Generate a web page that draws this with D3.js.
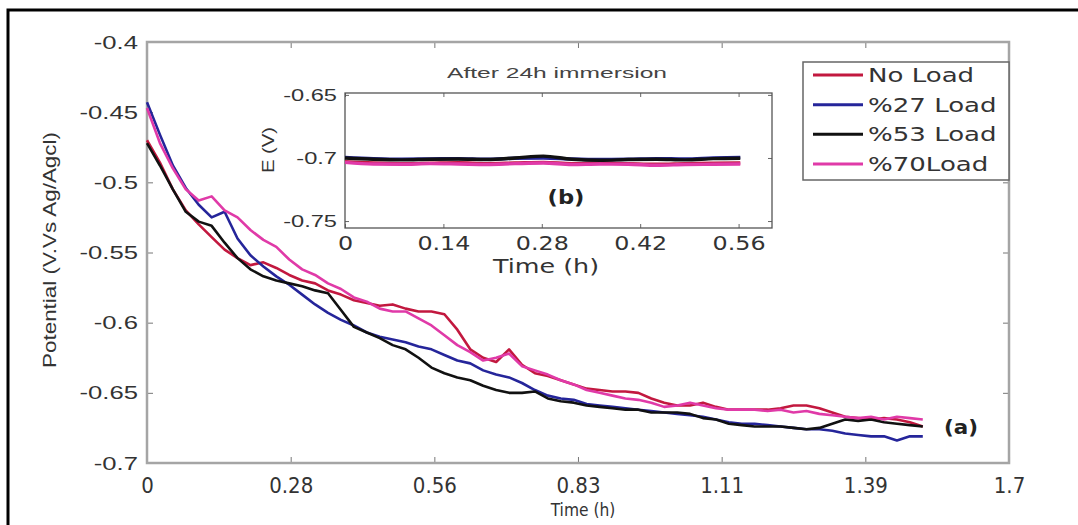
<!DOCTYPE html>
<html>
<head>
<meta charset="utf-8">
<script src="https://cdn.jsdelivr.net/npm/d3@7"></script>
<style>
  body { margin: 0; background: #fff; }
  svg { display: block; }
</style>
</head>
<body>
<div id="chart"></div>
<script>
// main plot data, time in hours, potential in V
var timeH = [0, 0.025, 0.05, 0.075, 0.1, 0.125, 0.15, 0.175, 0.2, 0.225, 0.25, 0.275, 0.3, 0.325, 0.35, 0.375,
  0.4, 0.425, 0.45, 0.475, 0.5, 0.525, 0.55, 0.575, 0.6, 0.625, 0.65, 0.675, 0.7, 0.725, 0.75, 0.775,
  0.8, 0.825, 0.85, 0.875, 0.9, 0.925, 0.95, 0.975, 1.0, 1.025, 1.05, 1.075, 1.1, 1.125, 1.15, 1.175,
  1.2, 1.225, 1.25, 1.275, 1.3, 1.325, 1.35, 1.375, 1.4, 1.425, 1.45, 1.475, 1.5]

var noLoad = [-0.470, -0.486, -0.505, -0.520, -0.530, -0.539, -0.548, -0.554, -0.559, -0.557, -0.561, -0.566,
  -0.570, -0.572, -0.577, -0.580, -0.584, -0.586, -0.588, -0.587, -0.590, -0.592, -0.592, -0.594, -0.605,
  -0.619, -0.625, -0.628, -0.619, -0.630, -0.636, -0.638, -0.641, -0.644, -0.647, -0.648, -0.649, -0.649,
  -0.650, -0.654, -0.657, -0.659, -0.659, -0.657, -0.660, -0.662, -0.662, -0.662, -0.662, -0.661, -0.659,
  -0.659, -0.661, -0.664, -0.667, -0.668, -0.669, -0.668, -0.669, -0.671, -0.674]

var load27 = [-0.443, -0.466, -0.488, -0.504, -0.516, -0.525, -0.521, -0.540, -0.552, -0.560, -0.567, -0.573,
  -0.580, -0.587, -0.593, -0.598, -0.602, -0.607, -0.610, -0.612, -0.614, -0.617, -0.619, -0.623, -0.627,
  -0.629, -0.634, -0.637, -0.639, -0.643, -0.648, -0.652, -0.654, -0.655, -0.658, -0.659, -0.660, -0.661,
  -0.662, -0.663, -0.664, -0.665, -0.666, -0.667, -0.669, -0.671, -0.672, -0.672, -0.673, -0.674, -0.675,
  -0.676, -0.676, -0.677, -0.679, -0.680, -0.681, -0.681, -0.684, -0.681, -0.681]

var load53 = [-0.472, -0.488, -0.505, -0.521, -0.528, -0.531, -0.543, -0.554, -0.562, -0.567, -0.570, -0.572,
  -0.574, -0.577, -0.579, -0.591, -0.603, -0.607, -0.611, -0.616, -0.619, -0.625, -0.632, -0.636, -0.639,
  -0.641, -0.645, -0.648, -0.650, -0.650, -0.649, -0.654, -0.656, -0.657, -0.659, -0.660, -0.661, -0.662,
  -0.662, -0.664, -0.664, -0.664, -0.665, -0.668, -0.669, -0.672, -0.673, -0.674, -0.674, -0.674, -0.675,
  -0.676, -0.675, -0.672, -0.669, -0.670, -0.669, -0.671, -0.672, -0.673, -0.674]

var load70 = [-0.447, -0.472, -0.490, -0.505, -0.513, -0.510, -0.520, -0.525, -0.534, -0.541, -0.546, -0.555,
  -0.562, -0.566, -0.572, -0.576, -0.582, -0.585, -0.590, -0.592, -0.592, -0.597, -0.602, -0.609, -0.616,
  -0.621, -0.627, -0.625, -0.622, -0.631, -0.634, -0.637, -0.641, -0.644, -0.648, -0.650, -0.652, -0.654,
  -0.655, -0.657, -0.660, -0.659, -0.657, -0.659, -0.661, -0.662, -0.662, -0.662, -0.663, -0.662, -0.664,
  -0.663, -0.665, -0.666, -0.667, -0.668, -0.667, -0.669, -0.667, -0.668, -0.669]

// inset (after 24h immersion)
var insetTimeH = [0, 0.04, 0.08, 0.12, 0.16, 0.2, 0.24, 0.28, 0.32, 0.36, 0.4, 0.44, 0.48, 0.52, 0.558]
var insetNoLoad = [-0.7030, -0.7040, -0.7045, -0.7042, -0.7038, -0.7045, -0.7040, -0.7035, -0.7045, -0.7040, -0.7045, -0.7050, -0.7045, -0.7042, -0.7040]
var insetLoad27 = [-0.6995, -0.7005, -0.7010, -0.7008, -0.7005, -0.7010, -0.7002, -0.7000, -0.7008, -0.7012, -0.7010, -0.7005, -0.7008, -0.7000, -0.6995]
var insetLoad53 = [-0.7000, -0.7010, -0.7015, -0.7010, -0.7008, -0.7012, -0.7000, -0.6985, -0.7010, -0.7018, -0.7012, -0.7010, -0.7015, -0.7005, -0.7002]
var insetLoad70 = [-0.7035, -0.7048, -0.7050, -0.7045, -0.7048, -0.7052, -0.7045, -0.7040, -0.7052, -0.7048, -0.7050, -0.7058, -0.7052, -0.7050, -0.7048]

var seriesNames = ['No Load', '%27 Load', '%53 Load', '%70Load']
var seriesColors = ['#c2183f', '#25259a', '#111111', '#e03aa8']

var xTickVals = [0, 0.2778, 0.5556, 0.8333, 1.1111, 1.3889, 1.6667]
var xTickLabels = ['0', '0.28', '0.56', '0.83', '1.11', '1.39', '1.7']
var yTickVals = [-0.4, -0.45, -0.5, -0.55, -0.6, -0.65, -0.7]
var yTickLabels = ['-0.4', '-0.45', '-0.5', '-0.55', '-0.6', '-0.65', '-0.7']

var insetXTickVals = [0, 0.1389, 0.2778, 0.4167, 0.5556]
var insetXTickLabels = ['0', '0.14', '0.28', '0.42', '0.56']
var insetYTickVals = [-0.65, -0.7, -0.75]
var insetYTickLabels = ['-0.65', '-0.7', '-0.75']


// stretch or squeeze a text to k times its natural width
function squeeze(sel, k) {
  sel.each(function() {
    var w = this.getComputedTextLength()
    d3.select(this).attr('textLength', w * k).attr('lengthAdjust', 'spacingAndGlyphs')
  })
}

var svg = d3.select('#chart').append('svg')
  .attr('width', 1078)
  .attr('height', 525)

svg.append('rect').attr('width', 1078).attr('height', 525).attr('fill', '#fff')

// outer frame, only top and left edges show
svg.append('rect')
  .attr('x', 8).attr('y', 10)
  .attr('width', 1200).attr('height', 600)
  .attr('fill', 'none')
  .attr('stroke', '#000')
  .attr('stroke-width', 3)

var box = {left: 147, right: 1009, top: 42, bottom: 463}

var x = d3.scaleLinear().domain([0, 6000 / 3600]).range([box.left, box.right])
var y = d3.scaleLinear().domain([-0.7, -0.4]).range([box.bottom, box.top])

// ticks, all pointing inward
var gx = svg.append('g')
  .attr('transform', 'translate(0,' + box.bottom + ')')
  .call(d3.axisBottom(x).tickValues(xTickVals)
    .tickFormat(function(d, i) { return xTickLabels[i] })
    .tickSizeInner(-6).tickSizeOuter(0))
gx.select('.domain').remove()
gx.selectAll('line').attr('stroke', '#777')
gx.selectAll('text')
  .attr('y', 30).attr('dy', null)
  .style('font-family', 'DejaVu Sans')
  .style('font-size', '22px')
  .attr('fill', '#333')
squeeze(gx.selectAll('text'), 0.9)

var gxTop = svg.append('g')
  .attr('transform', 'translate(0,' + box.top + ')')
  .call(d3.axisTop(x).tickValues(xTickVals).tickFormat('').tickSizeInner(-6).tickSizeOuter(0))
gxTop.select('.domain').remove()
gxTop.selectAll('line').attr('stroke', '#777')

var gy = svg.append('g')
  .attr('transform', 'translate(' + box.left + ',0)')
  .call(d3.axisLeft(y).tickValues(yTickVals)
    .tickFormat(function(d, i) { return yTickLabels[i] })
    .tickSizeInner(-6).tickSizeOuter(0))
gy.select('.domain').remove()
gy.selectAll('line').attr('stroke', '#777')
gy.selectAll('text')
  .attr('x', -9)
  .style('font-family', 'Liberation Sans')
  .style('font-size', '19px')
  .attr('fill', '#333')
squeeze(gy.selectAll('text'), 1.35)

var gyRight = svg.append('g')
  .attr('transform', 'translate(' + box.right + ',0)')
  .call(d3.axisRight(y).tickValues(yTickVals).tickFormat('').tickSizeInner(-6).tickSizeOuter(0))
gyRight.select('.domain').remove()
gyRight.selectAll('line').attr('stroke', '#777')

svg.append('rect')
  .attr('x', box.left).attr('y', box.top)
  .attr('width', box.right - box.left).attr('height', box.bottom - box.top)
  .attr('fill', 'none')
  .attr('stroke', '#a5a5a5')
  .attr('stroke-width', 2.5)

// main curves
var line = d3.line()
  .x(function(d) { return x(d[0]) })
  .y(function(d) { return y(d[1]) })

var mainSeries = [noLoad, load27, load53, load70]
mainSeries.forEach(function(vals, i) {
  svg.append('path')
    .datum(timeH.map(function(t, j) { return [t, vals[j]] }))
    .attr('d', line)
    .attr('fill', 'none')
    .attr('stroke', seriesColors[i])
    .attr('stroke-width', 2.6)
    .attr('stroke-linejoin', 'round')
})

// axis titles
var yTitle = svg.append('text')
  .attr('transform', 'translate(56,250) rotate(-90)')
  .attr('text-anchor', 'middle')
  .style('font-family', 'Liberation Sans')
  .style('font-size', '19px')
  .attr('fill', '#333')
  .text('Potential (V.Vs Ag/Agcl)')
squeeze(yTitle, 1.18)

var xTitle = svg.append('text')
  .attr('x', 583).attr('y', 516)
  .attr('text-anchor', 'middle')
  .style('font-family', 'DejaVu Sans')
  .style('font-size', '18px')
  .attr('fill', '#333')
  .text('Time (h)')
squeeze(xTitle, 0.86)

var aLabel = svg.append('text')
  .attr('x', 961).attr('y', 434)
  .attr('text-anchor', 'middle')
  .style('font-family', 'DejaVu Sans')
  .style('font-weight', 'bold')
  .style('font-size', '20px')
  .attr('fill', '#222')
  .text('(a)')
squeeze(aLabel, 1.07)

// inset
var ibox = {left: 345, right: 772, top: 93, bottom: 228}
var xi = d3.scaleLinear().domain([0, 2170 / 3600]).range([ibox.left, ibox.right])
var yi = d3.scaleLinear().domain([-0.7555, -0.6485]).range([ibox.bottom, ibox.top])

svg.append('rect')
  .attr('x', ibox.left).attr('y', ibox.top)
  .attr('width', ibox.right - ibox.left).attr('height', ibox.bottom - ibox.top)
  .attr('fill', '#fff')

var gxi = svg.append('g')
  .attr('transform', 'translate(0,' + ibox.bottom + ')')
  .call(d3.axisBottom(xi).tickValues(insetXTickVals)
    .tickFormat(function(d, i) { return insetXTickLabels[i] })
    .tickSizeInner(-4).tickSizeOuter(0))
gxi.select('.domain').remove()
gxi.selectAll('line').attr('stroke', '#666')
gxi.selectAll('text')
  .attr('y', 22).attr('dy', null)
  .style('font-family', 'DejaVu Sans')
  .style('font-size', '20px')
  .attr('fill', '#333')
squeeze(gxi.selectAll('text'), 1.19)

var gxiTop = svg.append('g')
  .attr('transform', 'translate(0,' + ibox.top + ')')
  .call(d3.axisTop(xi).tickValues(insetXTickVals).tickFormat('').tickSizeInner(-4).tickSizeOuter(0))
gxiTop.select('.domain').remove()
gxiTop.selectAll('line').attr('stroke', '#666')

var gyi = svg.append('g')
  .attr('transform', 'translate(' + ibox.left + ',0)')
  .call(d3.axisLeft(yi).tickValues(insetYTickVals)
    .tickFormat(function(d, i) { return insetYTickLabels[i] })
    .tickSizeInner(-4).tickSizeOuter(0))
gyi.select('.domain').remove()
gyi.selectAll('line').attr('stroke', '#666')
gyi.selectAll('text')
  .attr('x', -8)
  .style('font-family', 'Liberation Sans')
  .style('font-size', '17px')
  .attr('fill', '#333')
squeeze(gyi.selectAll('text'), 1.39)

var gyiRight = svg.append('g')
  .attr('transform', 'translate(' + ibox.right + ',0)')
  .call(d3.axisRight(yi).tickValues(insetYTickVals).tickFormat('').tickSizeInner(-4).tickSizeOuter(0))
gyiRight.select('.domain').remove()
gyiRight.selectAll('line').attr('stroke', '#666')

svg.append('rect')
  .attr('x', ibox.left).attr('y', ibox.top)
  .attr('width', ibox.right - ibox.left).attr('height', ibox.bottom - ibox.top)
  .attr('fill', 'none')
  .attr('stroke', '#555')
  .attr('stroke-width', 1.3)

var lineInset = d3.line()
  .x(function(d) { return xi(d[0]) })
  .y(function(d) { return yi(d[1]) })
  .curve(d3.curveMonotoneX)

var insetSeries = [insetNoLoad, insetLoad27, insetLoad53, insetLoad70]
insetSeries.forEach(function(vals, i) {
  svg.append('path')
    .datum(insetTimeH.map(function(t, j) { return [t, vals[j]] }))
    .attr('d', lineInset)
    .attr('fill', 'none')
    .attr('stroke', seriesColors[i])
    .attr('stroke-width', 3.4)
    .attr('stroke-linejoin', 'round')
})

var iTitle = svg.append('text')
  .attr('x', 557).attr('y', 78)
  .attr('text-anchor', 'middle')
  .style('font-family', 'Liberation Sans')
  .style('font-size', '14px')
  .attr('fill', '#444')
  .text('After 24h immersion')
iTitle.attr('textLength', 220).attr('lengthAdjust', 'spacingAndGlyphs')

var iXTitle = svg.append('text')
  .attr('x', 546).attr('y', 273)
  .attr('text-anchor', 'middle')
  .style('font-family', 'DejaVu Sans')
  .style('font-size', '20px')
  .attr('fill', '#333')
  .text('Time (h)')
squeeze(iXTitle, 1.27)

var iYTitle = svg.append('text')
  .attr('transform', 'translate(274,150) rotate(-90)')
  .attr('text-anchor', 'middle')
  .style('font-family', 'Liberation Sans')
  .style('font-size', '17px')
  .attr('fill', '#333')
  .text('E (V)')
squeeze(iYTitle, 1.19)

var bLabel = svg.append('text')
  .attr('x', 566).attr('y', 204)
  .attr('text-anchor', 'middle')
  .style('font-family', 'DejaVu Sans')
  .style('font-weight', 'bold')
  .style('font-size', '20px')
  .attr('fill', '#222')
  .text('(b)')
squeeze(bLabel, 1.13)

// legend
var legend = svg.append('g')
legend.append('rect')
  .attr('x', 803).attr('y', 62)
  .attr('width', 206).attr('height', 118)
  .attr('fill', '#fff')
  .attr('stroke', '#666')
  .attr('stroke-width', 1.5)

var legendY = d3.scalePoint().domain(seriesNames).range([75, 164])

seriesNames.forEach(function(name, i) {
  legend.append('line')
    .attr('x1', 813).attr('x2', 863)
    .attr('y1', legendY(name)).attr('y2', legendY(name))
    .attr('stroke', seriesColors[i])
    .attr('stroke-width', 3)
  var t = legend.append('text')
    .attr('x', 868).attr('y', legendY(name) + 7)
    .style('font-family', 'DejaVu Sans')
    .style('font-size', '19px')
    .attr('fill', '#333')
    .text(name)
  squeeze(t, 1.37)
})
</script>
</body>
</html>
